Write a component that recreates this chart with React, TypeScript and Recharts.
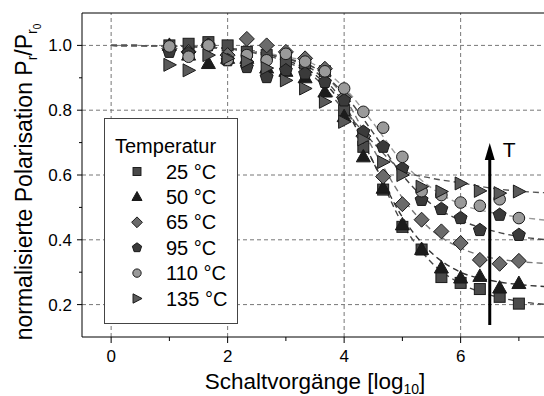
import { ComposedChart, Line, ReferenceLine, Scatter, XAxis, YAxis } from 'recharts'

// switching cycles, log10 (1/3-decade steps)
const cycles = [1, 1.33, 1.67, 2, 2.33, 2.67, 3, 3.33, 3.67, 4, 4.33, 4.67, 5, 5.33, 5.67, 6, 6.33, 6.67, 7]

const p25 = [1.0, 1.005, 1.01, 1.0, 0.98, 0.97, 0.95, 0.944, 0.92, 0.8, 0.687, 0.555, 0.44, 0.37, 0.285, 0.267, 0.248, 0.224, 0.203]
const p50 = [1.0, 0.97, 0.944, 0.96, 0.96, 0.93, 0.92, 0.9, 0.856, 0.78, 0.656, 0.559, 0.446, 0.37, 0.313, 0.282, 0.287, 0.251, 0.265]
const p65 = [0.99, 0.98, 1.0, 0.97, 1.02, 1.0, 0.98, 0.96, 0.928, 0.84, 0.72, 0.595, 0.51, 0.462, 0.426, 0.39, 0.338, 0.326, 0.335]
const p95 = [0.98, 0.976, 1.0, 0.954, 0.933, 0.902, 0.923, 0.913, 0.887, 0.83, 0.733, 0.687, 0.62, 0.523, 0.495, 0.467, 0.43, 0.477, 0.415]
const p110 = [0.997, 0.965, 1.0, 0.955, 0.97, 0.954, 0.974, 0.95, 0.92, 0.867, 0.795, 0.746, 0.656, 0.55, 0.538, 0.515, 0.505, 0.525, 0.467]
const p135 = [0.94, 0.923, 0.97, 0.96, 0.95, 0.93, 0.892, 0.867, 0.826, 0.764, 0.71, 0.64, 0.6, 0.564, 0.549, 0.574, 0.551, 0.544, 0.549]

// fitted curves
const fitX = [0, 1, 2, 2.5, 3, 3.5, 4, 4.5, 5, 5.5, 6, 6.5, 7, 7.5]
const f25 = [1.0, 0.998, 0.99, 0.98, 0.96, 0.92, 0.82, 0.64, 0.45, 0.33, 0.265, 0.23, 0.21, 0.2]
const f50 = [1.0, 0.998, 0.99, 0.98, 0.955, 0.91, 0.81, 0.64, 0.47, 0.36, 0.3, 0.275, 0.262, 0.255]
const f65 = [1.0, 0.998, 0.99, 0.98, 0.96, 0.93, 0.84, 0.68, 0.53, 0.43, 0.375, 0.345, 0.333, 0.327]
const f95 = [1.0, 0.998, 0.99, 0.98, 0.96, 0.93, 0.85, 0.73, 0.6, 0.51, 0.46, 0.43, 0.41, 0.4]
const f110 = [1.0, 0.998, 0.99, 0.98, 0.965, 0.94, 0.87, 0.76, 0.64, 0.56, 0.51, 0.485, 0.47, 0.46]
const f135 = [1.0, 0.998, 0.99, 0.975, 0.95, 0.9, 0.8, 0.7, 0.615, 0.59, 0.576, 0.56, 0.55, 0.545]

const xTicks = [0, 1, 2, 3, 4, 5, 6, 7]
const yTicks = [0.2, 0.3, 0.4, 0.5, 0.6, 0.7, 0.8, 0.9, 1.0]
const gridX = [0, 2, 4, 6]
const gridY = [0.2, 0.4, 0.6, 0.8, 1.0]

const arrowX = 6.5
const arrowFrom = 0.137
const arrowTo = 0.699

const FONT = '"Liberation Sans", Arial, sans-serif'

type Kind = 'square' | 'up' | 'diamond' | 'pentagon' | 'circle' | 'right'

const series: { name: string; kind: Kind; fill: string; line: string; pts: number[]; fit: number[] }[] = [
  { name: '25 °C', kind: 'square', fill: '#4a4a4a', line: '#444', pts: p25, fit: f25 },
  { name: '50 °C', kind: 'up', fill: '#1c1c1c', line: '#333', pts: p50, fit: f50 },
  { name: '65 °C', kind: 'diamond', fill: '#6b6b6b', line: '#777', pts: p65, fit: f65 },
  { name: '95 °C', kind: 'pentagon', fill: '#3a3a3a', line: '#444', pts: p95, fit: f95 },
  { name: '110 °C', kind: 'circle', fill: '#9a9a9a', line: '#999', pts: p110, fit: f110 },
  { name: '135 °C', kind: 'right', fill: '#5a5a5a', line: '#555', pts: p135, fit: f135 },
]

function marker(kind: Kind, cx: number, cy: number, fill: string, s = 1) {
  const common = { fill, stroke: '#1a1a1a', strokeWidth: 1 }
  const poly = (pts: number[][]) => (
    <polygon points={pts.map(([x, y]) => `${cx + x * s},${cy + y * s}`).join(' ')} {...common} />
  )
  switch (kind) {
    case 'square':
      return <rect x={cx - 5.5 * s} y={cy - 5.5 * s} width={11 * s} height={11 * s} {...common} />
    case 'up':
      return poly([[0, -7.5], [7, 5], [-7, 5]])
    case 'diamond':
      return poly([[0, -7.5], [7.5, 0], [0, 7.5], [-7.5, 0]])
    case 'pentagon': {
      const pts = [0, 1, 2, 3, 4].map((k) => {
        const a = ((-90 + 72 * k) * Math.PI) / 180
        return [6.8 * Math.cos(a), 6.8 * Math.sin(a)]
      })
      return poly(pts)
    }
    case 'circle':
      return <circle cx={cx} cy={cy} r={5.8 * s} {...common} />
    case 'right':
      return poly([[7, 0], [-5.5, -6.5], [-5.5, 6.5]])
  }
}

const YTick = (props: any) => {
  const { x, y, payload } = props
  const v = payload.value as number
  const major = Math.round(v * 10) % 2 === 0
  return (
    <g>
      <line x1={x - (major ? 5 : 3)} x2={x} y1={y} y2={y} stroke="#000" />
      {major && (
        <text x={x - 10} y={y} dy={6} textAnchor="end" fontSize={17} fontFamily={FONT} fill="#000">
          {v.toFixed(1)}
        </text>
      )}
    </g>
  )
}

const XTick = (props: any) => {
  const { x, y, payload } = props
  const v = payload.value as number
  const major = v % 2 === 0
  return (
    <g>
      <line x1={x} x2={x} y1={y} y2={y + (major ? 6 : 4)} stroke="#000" />
      {major && (
        <text x={x} y={y + 25} textAnchor="middle" fontSize={17} fontFamily={FONT} fill="#000">
          {v}
        </text>
      )}
    </g>
  )
}

const Arrow = (props: any) => {
  const { x1, y1, y2 } = props
  const top = Math.min(y1, y2)
  const bot = Math.max(y1, y2)
  return (
    <g>
      <line x1={x1} x2={x1} y1={bot} y2={top + 14} stroke="#000" strokeWidth={3} />
      <polygon points={`${x1},${top} ${x1 + 5},${top + 17} ${x1 - 5},${top + 17}`} fill="#000" />
      <text x={x1 + 13} y={top + 14} fontSize={21} fontFamily={FONT} fill="#000">
        T
      </text>
    </g>
  )
}

export default function App() {
  return (
    <div style={{ position: 'absolute', left: 0, top: 0, width: 544, height: 396, overflow: 'hidden', background: '#fff' }}>
      <ComposedChart width={558} height={396} margin={{ top: 13, right: 10, bottom: 0, left: 0 }}>
        <XAxis
          type="number"
          dataKey="x"
          domain={[-0.5, 7.5]}
          ticks={xTicks}
          interval={0}
          allowDataOverflow
          height={59}
          tickSize={0}
          tickMargin={0}
          tickLine={false}
          tick={<XTick />}
          axisLine={{ stroke: '#000' }}
        />
        <YAxis
          type="number"
          dataKey="y"
          domain={[0.1, 1.1]}
          ticks={yTicks}
          interval={0}
          allowDataOverflow
          width={82}
          tickSize={0}
          tickMargin={0}
          tickLine={false}
          tick={<YTick />}
          axisLine={{ stroke: '#000' }}
        />
        {gridX.map((g) => (
          <ReferenceLine key={'gx' + g} x={g} stroke="#777" strokeDasharray="4 3" />
        ))}
        {gridY.map((g) => (
          <ReferenceLine key={'gy' + g} y={g} stroke="#777" strokeDasharray="4 3" />
        ))}
        <ReferenceLine y={1.1} stroke="#000" />
        {series.map((s) => (
          <Scatter
            key={s.name}
            name={s.name}
            data={cycles.map((c, i) => ({ x: c, y: s.pts[i] }))}
            isAnimationActive={false}
            shape={(p: any) => marker(s.kind, p.cx, p.cy, s.fill)}
          />
        ))}
        {series.map((s) => (
          <Line
            key={'fit' + s.name}
            data={fitX.map((c, i) => ({ x: c, y: s.fit[i] }))}
            dataKey="y"
            type="monotone"
            stroke={s.line}
            strokeWidth={1.4}
            strokeDasharray="6 4"
            dot={false}
            activeDot={false}
            isAnimationActive={false}
          />
        ))}
        <ReferenceLine
          segment={[
            { x: arrowX, y: arrowFrom },
            { x: arrowX, y: arrowTo },
          ]}
          shape={<Arrow />}
        />
      </ComposedChart>
      <svg
        width={544}
        height={396}
        style={{ position: 'absolute', left: 0, top: 0, pointerEvents: 'none' }}
        fontFamily={FONT}
      >
        <rect x={104.5} y={118.5} width={133} height={205} fill="#fff" stroke="#444" />
        <text x={115} y={152.5} fontSize={20}>
          Temperatur
        </text>
        {series.map((s, i) => (
          <g key={'lg' + s.name}>
            {marker(s.kind, 137, 171.5 + i * 25.4, s.fill, 0.72)}
            <text x={166} y={171.5 + i * 25.4 + 7} fontSize={20}>
              {s.name}
            </text>
          </g>
        ))}
        <text x={315} y={389} textAnchor="middle" fontSize={22.5}>
          Schaltvorgänge [log
          <tspan fontSize={14} dy={5}>
            10
          </tspan>
          <tspan dy={-5}>]</tspan>
        </text>
        <text x={32} y={182} textAnchor="middle" fontSize={23} transform="rotate(-90 32 182)">
          normalisierte Polarisation P
          <tspan fontSize={14} dy={5}>
            r
          </tspan>
          <tspan dy={-5}>/P</tspan>
          <tspan fontSize={14} dy={5}>
            r
          </tspan>
          <tspan fontSize={10} dy={4}>
            0
          </tspan>
        </text>
      </svg>
    </div>
  )
}
